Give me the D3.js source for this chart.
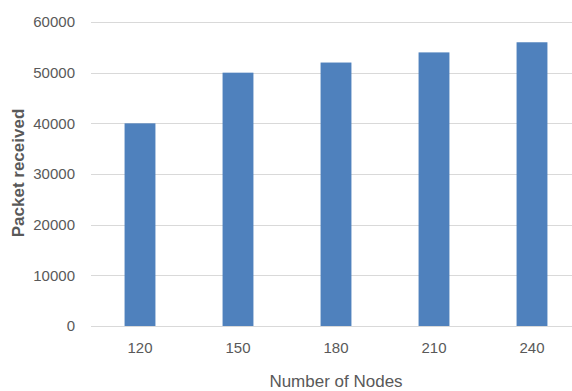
<!DOCTYPE html>
<html>
<head>
<meta charset="utf-8">
<script src="https://cdn.jsdelivr.net/npm/d3@7"></script>
<style>
  html, body { margin: 0; padding: 0; background: #fff; }
  svg text { font-family: "Liberation Sans Narrow", "Liberation Sans", "DejaVu Sans Condensed", sans-serif; fill: #595959; }
</style>
</head>
<body>
<svg id="chart" width="572" height="391"></svg>
<script>
// Packets received per network size
const nodeCounts = ["120", "150", "180", "210", "240"];
const packetsReceived = [40000, 50000, 52000, 54000, 56000];
const yTicks = [0, 10000, 20000, 30000, 40000, 50000, 60000];

const svg = d3.select("#chart");
const plotLeft = 91, plotRight = 581, plotTop = 22, plotBottom = 326;

const x = d3.scaleBand().domain(nodeCounts).range([plotLeft, plotRight]).paddingInner(0.685).paddingOuter(0.3425);
const y = d3.scaleLinear().domain([0, 60000]).range([plotBottom, plotTop]);

// horizontal gridlines
svg.append("g")
  .selectAll("line")
  .data(yTicks)
  .join("line")
  .attr("x1", plotLeft).attr("x2", 572)
  .attr("y1", d => Math.round(y(d)) + 0.5).attr("y2", d => Math.round(y(d)) + 0.5)
  .attr("stroke", "#d9d9d9").attr("stroke-width", 1.2);

// bars
svg.append("g")
  .selectAll("rect")
  .data(nodeCounts.map((n, i) => ({ n, v: packetsReceived[i] })))
  .join("rect")
  .attr("x", d => x(d.n))
  .attr("width", x.bandwidth())
  .attr("y", d => y(d.v))
  .attr("height", d => y(0) - y(d.v))
  .attr("fill", "#4f81bd");

// y axis labels
const yAxis = svg.append("g")
  .attr("transform", `translate(${plotLeft},0)`)
  .call(d3.axisLeft(y).tickValues(yTicks).tickFormat(d3.format("d")).tickSize(0).tickPadding(16));
yAxis.select(".domain").remove();
yAxis.selectAll("text").style("font-size", "15px").style("fill", "#595959");

// x axis labels
const xAxis = svg.append("g")
  .attr("transform", `translate(0,${plotBottom})`)
  .call(d3.axisBottom(x).tickSize(0).tickPadding(16));
xAxis.select(".domain").remove();
xAxis.selectAll("text").style("font-size", "15px").style("fill", "#595959");

// axis titles
svg.append("text")
  .attr("x", 336).attr("y", 387)
  .attr("text-anchor", "middle")
  .style("font-size", "17px")
  .text("Number of Nodes");

svg.append("text")
  .attr("transform", "translate(24,173) rotate(-90)")
  .attr("text-anchor", "middle")
  .style("font-size", "17px")
  .style("font-weight", "bold")
  .text("Packet received");
</script>
</body>
</html>
